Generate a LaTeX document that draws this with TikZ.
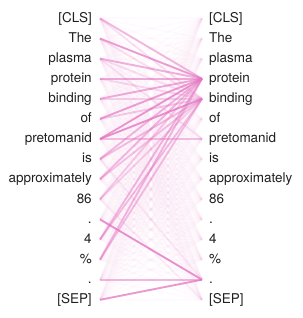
\documentclass[tikz,border=0pt]{standalone}
\usepackage{fontspec}
\setmainfont{TeX Gyre Heros}
\usetikzlibrary{positioning}
\definecolor{headpink}{HTML}{E377C2}
\begin{document}
\begin{tikzpicture}[
  x=0.75pt, y=-0.75pt,
  font=\fontsize{10.1}{12}\selectfont,
  token/.style={inner sep=0pt, text=black!88, text height=7.6pt, text depth=2pt},
  attn/.style={headpink, line width=1.4pt, opacity=#1},
]
\useasboundingbox (0,0) rectangle (303,318);

% Line ends of both columns
\foreach \i in {0,...,14} {
  \coordinate (a\i) at (100, 18.4+20.1*\i);
  \coordinate (b\i) at (202, 18.4+20.1*\i);
}

% Left column
\node[token, left=6pt of a0]  (l0)  {[CLS]};
\node[token, left=6pt of a1]  (l1)  {The};
\node[token, left=6pt of a2]  (l2)  {plasma};
\node[token, left=6pt of a3]  (l3)  {protein};
\node[token, left=6pt of a4]  (l4)  {binding};
\node[token, left=6pt of a5]  (l5)  {of};
\node[token, left=6pt of a6]  (l6)  {pretomanid};
\node[token, left=6pt of a7]  (l7)  {is};
\node[token, left=6pt of a8]  (l8)  {approximately};
\node[token, left=6pt of a9]  (l9)  {86};
\node[token, left=6pt of a10] (l10) {.};
\node[token, left=6pt of a11] (l11) {4};
\node[token, left=6pt of a12] (l12) {\%};
\node[token, left=6pt of a13] (l13) {.};
\node[token, left=6pt of a14] (l14) {[SEP]};

% Right column
\node[token, right=5.2pt of b0]  (r0)  {[CLS]};
\node[token, right=5.2pt of b1]  (r1)  {The};
\node[token, right=5.2pt of b2]  (r2)  {plasma};
\node[token, right=5.2pt of b3]  (r3)  {protein};
\node[token, right=5.2pt of b4]  (r4)  {binding};
\node[token, right=5.2pt of b5]  (r5)  {of};
\node[token, right=5.2pt of b6]  (r6)  {pretomanid};
\node[token, right=5.2pt of b7]  (r7)  {is};
\node[token, right=5.2pt of b8]  (r8)  {approximately};
\node[token, right=5.2pt of b9]  (r9)  {86};
\node[token, right=5.2pt of b10] (r10) {.};
\node[token, right=5.2pt of b11] (r11) {4};
\node[token, right=5.2pt of b12] (r12) {\%};
\node[token, right=5.2pt of b13] (r13) {.};
\node[token, right=5.2pt of b14] (r14) {[SEP]};

% Faint attention everywhere
\foreach \i in {0,...,14}
  \foreach \j in {0,...,14}
    \draw[attn=0.035] (a\i) -- (b\j);

% Attention onto "protein" and "binding"
\draw[attn=0.5]  (a0)  -- (b3);
\draw[attn=0.2]  (a0)  -- (b4);
\draw[attn=0.7]  (a1)  -- (b3);
\draw[attn=0.2]  (a1)  -- (b4);
\draw[attn=0.55] (a2)  -- (b3);
\draw[attn=0.2]  (a2)  -- (b4);
\draw[attn=0.18] (a2)  -- (b6);
\draw[attn=0.6]  (a3)  -- (b3);
\draw[attn=0.25] (a3)  -- (b4);
\draw[attn=0.6]  (a4)  -- (b3);
\draw[attn=0.3]  (a4)  -- (b4);
\draw[attn=0.7]  (a5)  -- (b3);
\draw[attn=0.35] (a5)  -- (b4);
\draw[attn=0.75] (a6)  -- (b3);
\draw[attn=0.8]  (a6)  -- (b4);
\draw[attn=0.45] (a6)  -- (b6);
\draw[attn=0.5]  (a7)  -- (b3);
\draw[attn=0.45] (a7)  -- (b4);
\draw[attn=0.5]  (a8)  -- (b3);
\draw[attn=0.4]  (a8)  -- (b4);
\draw[attn=0.35] (a9)  -- (b3);
\draw[attn=0.3]  (a9)  -- (b4);
\draw[attn=0.5]  (a11) -- (b3);
\draw[attn=0.45] (a11) -- (b4);
\draw[attn=0.5]  (a12) -- (b3);
\draw[attn=0.45] (a12) -- (b4);

% Attention onto the last "."
\draw[attn=0.8]  (a10) -- (b13);
\draw[attn=0.5]  (a13) -- (b13);
\draw[attn=0.75] (a14) -- (b13);
\draw[attn=0.12] (a7)  -- (b13);
\draw[attn=0.1]  (a9)  -- (b14);

\end{tikzpicture}
\end{document}
